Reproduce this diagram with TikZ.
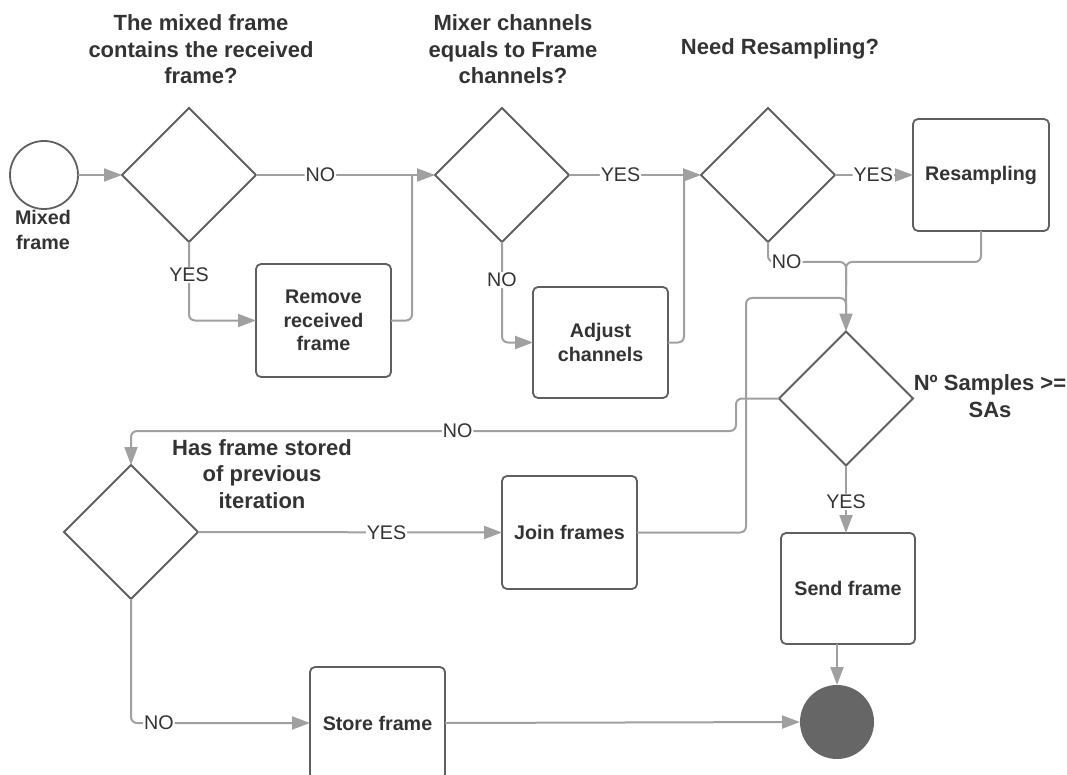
\documentclass[tikz,border=0pt]{standalone}
\usepackage{fontspec}
\setmainfont{Liberation Sans}
\usetikzlibrary{shapes.geometric,arrows.meta}
\definecolor{ink}{HTML}{333333}
\definecolor{edge}{HTML}{5F5F5F}
\definecolor{wire}{HTML}{A0A0A0}
\definecolor{stopfill}{HTML}{666666}

\tikzset{
  every node/.style={text=ink, outer sep=0pt},
  decision/.style={diamond, draw=edge, line width=1.8pt, minimum width=134pt,
    minimum height=134pt, inner sep=0pt, aspect=1},
  task/.style={draw=edge, line width=1.8pt, rounded corners=5pt, minimum width=135pt,
    minimum height=112pt, align=center, font=\fontsize{19.7}{23.5}\selectfont\bfseries},
  title/.style={align=center, font=\fontsize{22}{26.5}\selectfont\bfseries},
  con/.style={draw=wire, line width=2pt, rounded corners=6pt},
  arr/.style={con, -{Triangle[length=18pt,width=13pt]}},
  lbl/.style={fill=white, inner sep=1pt, font=\fontsize{19.7}{22}\selectfont},
}

\begin{document}
\begin{tikzpicture}[x=1pt,y=-1pt]
\useasboundingbox (0,0) rectangle (1067,775);
\begin{scope}
\clip (0,0) rectangle (1067,775);

% question headings
\node[title] (q1) at (201,49.5) {The mixed frame\\contains the received\\frame?};
\node[title] (q2) at (513,49.5) {Mixer channels\\equals to Frame\\channels?};
\node[title] (q3) at (780,49) {Need Resampling?};
\node[title] (q4) at (262,474) {Has frame stored\\of previous\\iteration};
\node[title] (q5) at (990,396) {Nº Samples >=\\SAs};

% start and end
\node[circle, draw=edge, line width=1.8pt, minimum size=68pt, inner sep=0pt] (start) at (44,175) {};
\node[align=center, font=\fontsize{19.7}{25}\selectfont\bfseries] (startlbl) at (43,230) {Mixed\\frame};
\node[circle, fill=stopfill, minimum size=74pt, inner sep=0pt] (end) at (837,722) {};

% decisions
\node[decision] (d1) at (189,175) {};
\node[decision] (d2) at (502,175) {};
\node[decision] (d3) at (768,175) {};
\node[decision] (d4) at (846,398.5) {};
\node[decision] (d5) at (131,532) {};

% tasks
\node[task, minimum height=113pt] (remove) at (323.5,320.5) {Remove\\received\\frame};
\node[task, minimum height=111pt] (adjust) at (600.5,342.5) {Adjust\\channels};
\node[task, minimum width=136pt] (resamp) at (981,175) {Resampling};
\node[task, minimum height=113pt] (join) at (569.5,532.5) {Join frames};
\node[task, minimum width=134pt, minimum height=111pt] (send) at (848,588.5) {Send frame};
\node[task] (store) at (377.5,723) {Store frame};

% junction points of merging connectors
\coordinate (j1) at (412,175);
\coordinate (j2) at (684,175);
\coordinate (m1) at (846,262);
\coordinate (m1b) at (846,286);
\coordinate (lp) at (746,298);
\coordinate (m2) at (846,298);
\coordinate (m2b) at (846,316);
\coordinate (k1) at (736,431);
\coordinate (k2) at (131,431);

% connectors
\draw[arr] (start.east) -- (d1.west);
\draw[arr] (d1.east) -- node[lbl, pos=0.36] {NO} (d2.west);
\draw[arr] (d1.south) |- node[lbl, pos=0.21] {YES} (remove.west);
\draw[con] (remove.east) -| (j1);
\draw[arr] (d2.east) -- node[lbl, pos=0.39] {YES} (d3.west);
\draw[arr] (d2.south) |- node[lbl, pos=0.19] {NO} (adjust.west);
\draw[con] (adjust.east) -| (j2);
\draw[arr] (d3.east) -- node[lbl, pos=0.49] {YES} (resamp.west);
\draw[arr] (d3.south) |- node[lbl, pos=0.62] {NO} (m1) -- (d4.north);
\draw[con] (resamp.south) |- (m1) -- (m1b);
\draw[con] (join.east) -| (lp) -- (m2) -- (m2b);
\draw[arr] (d4.west) -| (k1) -- node[lbl, pos=0.46] {NO} (k2) -- (d5.north);
\draw[arr] (d4.south) -- node[lbl, pos=0.54] {YES} (d4.south |- send.north);
\draw[arr] (d5.east) -- node[lbl, pos=0.62] {YES} (join.west);
\draw[arr] (d5.south) |- node[lbl, pos=0.578] {NO} (store.west);
\draw[arr] (store.east) -- (end.west);
\draw[arr] (send.south -| end.north) -- (end.north);
\end{scope}
\end{tikzpicture}
\end{document}
